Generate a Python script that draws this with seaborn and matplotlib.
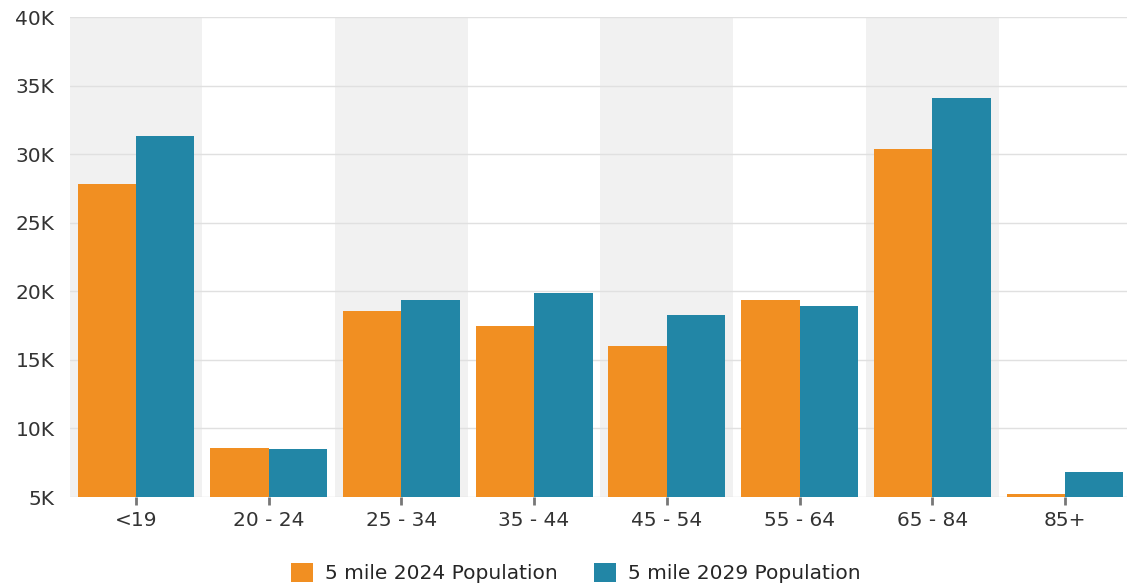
import matplotlib
matplotlib.use("Agg")
import matplotlib.pyplot as plt
import seaborn as sns
import pandas as pd
from matplotlib.ticker import FuncFormatter

age_groups = ['<19', '20 - 24', '25 - 34', '35 - 44', '45 - 54', '55 - 64', '65 - 84', '85+']
pop_2024 = [27800, 8560, 18600, 17500, 16000, 19400, 30400, 5200]
pop_2029 = [31300, 8500, 19400, 19900, 18300, 18900, 34100, 6800]
series_names = ['5 mile 2024 Population', '5 mile 2029 Population']
colors = ['#F18F22', '#2286A6']

df = pd.DataFrame({
    'Age': age_groups * 2,
    'Population': pop_2024 + pop_2029,
    'Series': [series_names[0]] * len(age_groups) + [series_names[1]] * len(age_groups),
})

sns.set_style('white')
plt.rcParams['font.family'] = ['DejaVu Sans']

fig = plt.figure(figsize=(11.27, 5.87), dpi=100)
ax = fig.add_axes([0.0618, 0.1533, 0.942, 0.8177])

# alternating background bands
for i in range(0, len(age_groups), 2):
    ax.axvspan(i - 0.5, i + 0.5, color='#f1f1f1', zorder=0, lw=0)

sns.barplot(data=df, x='Age', y='Population', hue='Series', palette=colors,
            width=0.88, gap=0, saturation=1, ax=ax, zorder=3, linewidth=0)

ax.set_ylim(5000, 40000)
ax.set_xlim(-0.5, len(age_groups) - 0.5)
ax.set_yticks(range(5000, 40001, 5000))
ax.yaxis.set_major_formatter(FuncFormatter(lambda v, p: f'{int(v / 1000)}K'))
ax.grid(axis='y', color='#e0e0e0', linewidth=1, zorder=1)
ax.set_axisbelow(True)
for s in ax.spines.values():
    s.set_visible(False)

ax.tick_params(axis='y', length=0, pad=11, labelsize=14.5, labelcolor='#333333')
ax.tick_params(axis='x', length=6, width=2, color='#777777', pad=4,
               labelsize=14.5, labelcolor='#333333', bottom=True)
ax.set_xlabel('')
ax.set_ylabel('')

handles, labels = ax.get_legend_handles_labels()
ax.get_legend().remove()
fig.legend(handles, labels, loc='center', bbox_to_anchor=(576 / 1127, 1 - 573 / 587),
           ncol=2, frameon=False, fontsize=14.5, handlelength=1.1, handleheight=1.1,
           columnspacing=1.8, handletextpad=0.6)

fig.savefig('out.png', dpi=100)
